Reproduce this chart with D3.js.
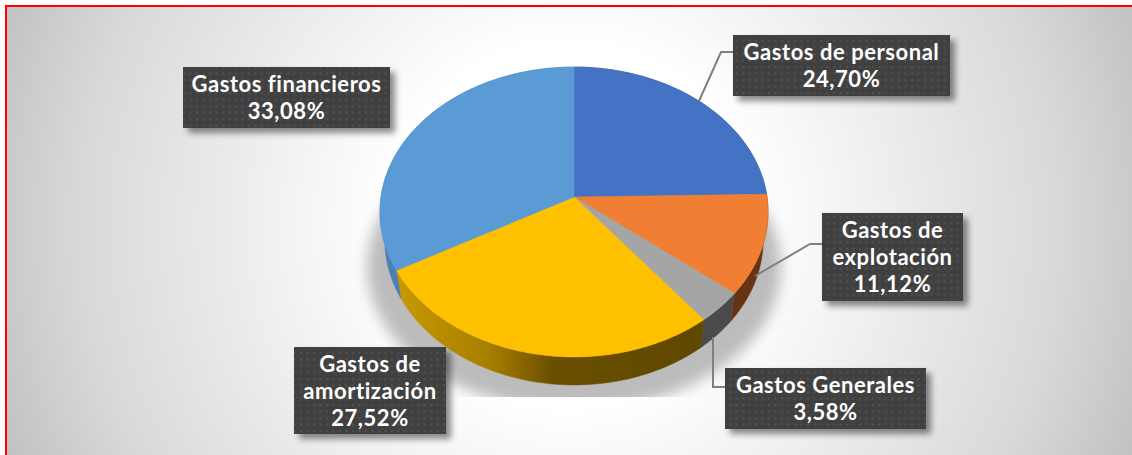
<!DOCTYPE html>
<html lang="es">
<head>
  <meta charset="UTF-8">
  <script src="https://cdn.jsdelivr.net/npm/d3@7"></script>
  <title>Gastos</title>
  <style>
    html, body { margin: 0; padding: 0; background: #fff; overflow: hidden; }
    svg { display: block; }
    text { font-family: Lato, "Open Sans", sans-serif; font-weight: 700; fill: #fff; letter-spacing: 0.55px; }
  </style>
</head>
<body>
  <svg id="chart" width="1132" height="455"></svg>
  <script>
  /* DATA */
  let categories = ["Gastos de personal", "Gastos de explotación", "Gastos Generales", "Gastos de amortización", "Gastos financieros"];
  let values = [24.70, 11.12, 3.58, 27.52, 33.08];
  let labelLines = [["Gastos de personal"], ["Gastos de", "explotación"], ["Gastos Generales"], ["Gastos de", "amortización"], ["Gastos financieros"]];

  /* STYLE + LAYOUT */
  let topColors = ["#4472c4", "#f07f33", "#a5a5a5", "#ffc000", "#5b9bd5"];
  let wallColors = ["#2c4a80", "#673413", "#4a4a4a", "url(#wallYellow)", "#4a80b3"];
  let boxes = [
    {x: 733, y: 35, w: 217, h: 61, leader: [[699, 101], [721, 52], [733, 52]]},
    {x: 822, y: 213, w: 141, h: 88, leader: [[755, 276], [810, 244], [822, 244]]},
    {x: 725, y: 368, w: 201, h: 61, leader: [[713, 337], [713, 387], [725, 387]]},
    {x: 294, y: 347, w: 152, h: 87, leader: null},
    {x: 183, y: 67, w: 207, h: 61, leader: null}
  ];
  let cx = 574, cy = 197, radiusX = 193, radiusY = 143.4, tilt = 0.1034, depth = 28;
  let bottomShrink = 0.975; // lower edge of the wall is a bit narrower than the top face

  let svg = d3.select("#chart");
  let defs = svg.append("defs");

  // background: white middle going grey to the corners
  let bg = defs.append("radialGradient").attr("id", "bg").attr("gradientUnits", "userSpaceOnUse")
    .attr("cx", 570).attr("cy", 225).attr("r", 610);
  [[0, "#ffffff"], [0.3, "#ffffff"], [0.68, "#e2e2e2"], [0.8, "#d9d9d9"], [1, "#c1c1c1"]].forEach(s => {
    bg.append("stop").attr("offset", s[0]).attr("stop-color", s[1]);
  });

  let wallY = defs.append("linearGradient").attr("id", "wallYellow").attr("gradientUnits", "userSpaceOnUse")
    .attr("x1", 400).attr("x2", 705).attr("y1", 0).attr("y2", 0);
  [[0, "#c89800"], [0.3, "#a67d00"], [0.5, "#6a4f00"], [1, "#604700"]].forEach(s => {
    wallY.append("stop").attr("offset", s[0]).attr("stop-color", s[1]);
  });

  defs.append("filter").attr("id", "blur").attr("x", "-20%").attr("y", "-20%").attr("width", "140%").attr("height", "140%")
    .append("feGaussianBlur").attr("stdDeviation", 7);

  let boxShadow = defs.append("filter").attr("id", "boxShadow").attr("x", "-10%").attr("y", "-10%").attr("width", "125%").attr("height", "130%");
  boxShadow.append("feDropShadow").attr("dx", 5).attr("dy", 5).attr("stdDeviation", 3)
    .attr("flood-color", "#000").attr("flood-opacity", 0.45);

  // dotted fill of the label boxes
  let dots = defs.append("pattern").attr("id", "dots").attr("patternUnits", "userSpaceOnUse").attr("width", 6.5).attr("height", 6.5);
  dots.append("rect").attr("width", 6.5).attr("height", 6.5).attr("fill", "#404040");
  dots.append("circle").attr("cx", 2).attr("cy", 2).attr("r", 1.1).attr("fill", "#525252");

  defs.append("clipPath").attr("id", "plotClip").append("rect").attr("x", 0).attr("y", 0).attr("width", 1132).attr("height", 397);

  svg.append("rect").attr("x", 6).attr("y", 6).attr("width", 1126).attr("height", 449).attr("fill", "url(#bg)");
  svg.append("path").attr("d", "M6,455V6H1132").attr("fill", "none").attr("stroke", "#ff0000").attr("stroke-width", 2);

  /* PIE */
  let pie = d3.pie().sort(null).value(d => d)(values);
  let line = d3.line();

  // angle on the flat disc -> point on the tilted picture
  function project(angle) {
    let x = Math.sin(angle), y = -Math.cos(angle);
    let w = 1 - tilt * y;
    return [cx + radiusX * x / w, cy + radiusY * y / w];
  }
  function rim(slice) {
    let n = Math.ceil((slice.endAngle - slice.startAngle) / 0.01);
    return d3.range(n + 1).map(i => project(slice.startAngle + (slice.endAngle - slice.startAngle) * i / n));
  }

  // soft shadow under the pie, cut off at the bottom of the plot area
  svg.append("g").attr("clip-path", "url(#plotClip)")
    .append("ellipse")
    .attr("cx", cx).attr("cy", cy + 70).attr("rx", radiusX + 14).attr("ry", radiusY)
    .attr("fill", "#bcbcbc").attr("filter", "url(#blur)");

  let pieGroup = svg.append("g");

  pieGroup.selectAll(".wall").data(pie).enter().append("path")
    .attr("class", "wall")
    .attr("d", d => {
      let top = rim(d);
      let bottom = top.map(p => [cx + (p[0] - cx) * bottomShrink, p[1] + depth]).reverse();
      return line(top.concat(bottom)) + "Z";
    })
    .attr("fill", (d, i) => wallColors[i])
    .attr("stroke", (d, i) => wallColors[i])
    .attr("stroke-width", 0.5);

  pieGroup.selectAll(".slice").data(pie).enter().append("path")
    .attr("class", "slice")
    .attr("d", d => line([[cx, cy]].concat(rim(d))) + "Z")
    .attr("fill", (d, i) => topColors[i])
    .attr("stroke", (d, i) => topColors[i])
    .attr("stroke-width", 0.5);

  /* LEADERS */
  svg.selectAll(".leader").data(boxes.filter(b => b.leader)).enter().append("path")
    .attr("class", "leader")
    .attr("d", b => line(b.leader))
    .attr("fill", "none")
    .attr("stroke", "#7f7f7f")
    .attr("stroke-width", 2);

  /* LABELS */
  let esFormat = d3.formatLocale({decimal: ",", thousands: ".", grouping: [3], currency: ["", "€"]}).format(".2f");
  let label = svg.selectAll(".label").data(categories).enter().append("g").attr("class", "label");

  label.append("rect")
    .attr("x", (d, i) => boxes[i].x).attr("y", (d, i) => boxes[i].y)
    .attr("width", (d, i) => boxes[i].w).attr("height", (d, i) => boxes[i].h)
    .attr("fill", "url(#dots)")
    .attr("filter", "url(#boxShadow)");

  label.each(function(d, i) {
    let b = boxes[i];
    let lines = labelLines[i].concat([esFormat(values[i]) + "%"]);
    d3.select(this).selectAll("text").data(lines).enter().append("text")
      .attr("x", b.x + b.w / 2)
      .attr("y", (t, j) => b.y + 25 + j * 27)
      .attr("text-anchor", "middle")
      .attr("font-size", 22)
      .text(t => t);
  });
  </script>
</body>
</html>
